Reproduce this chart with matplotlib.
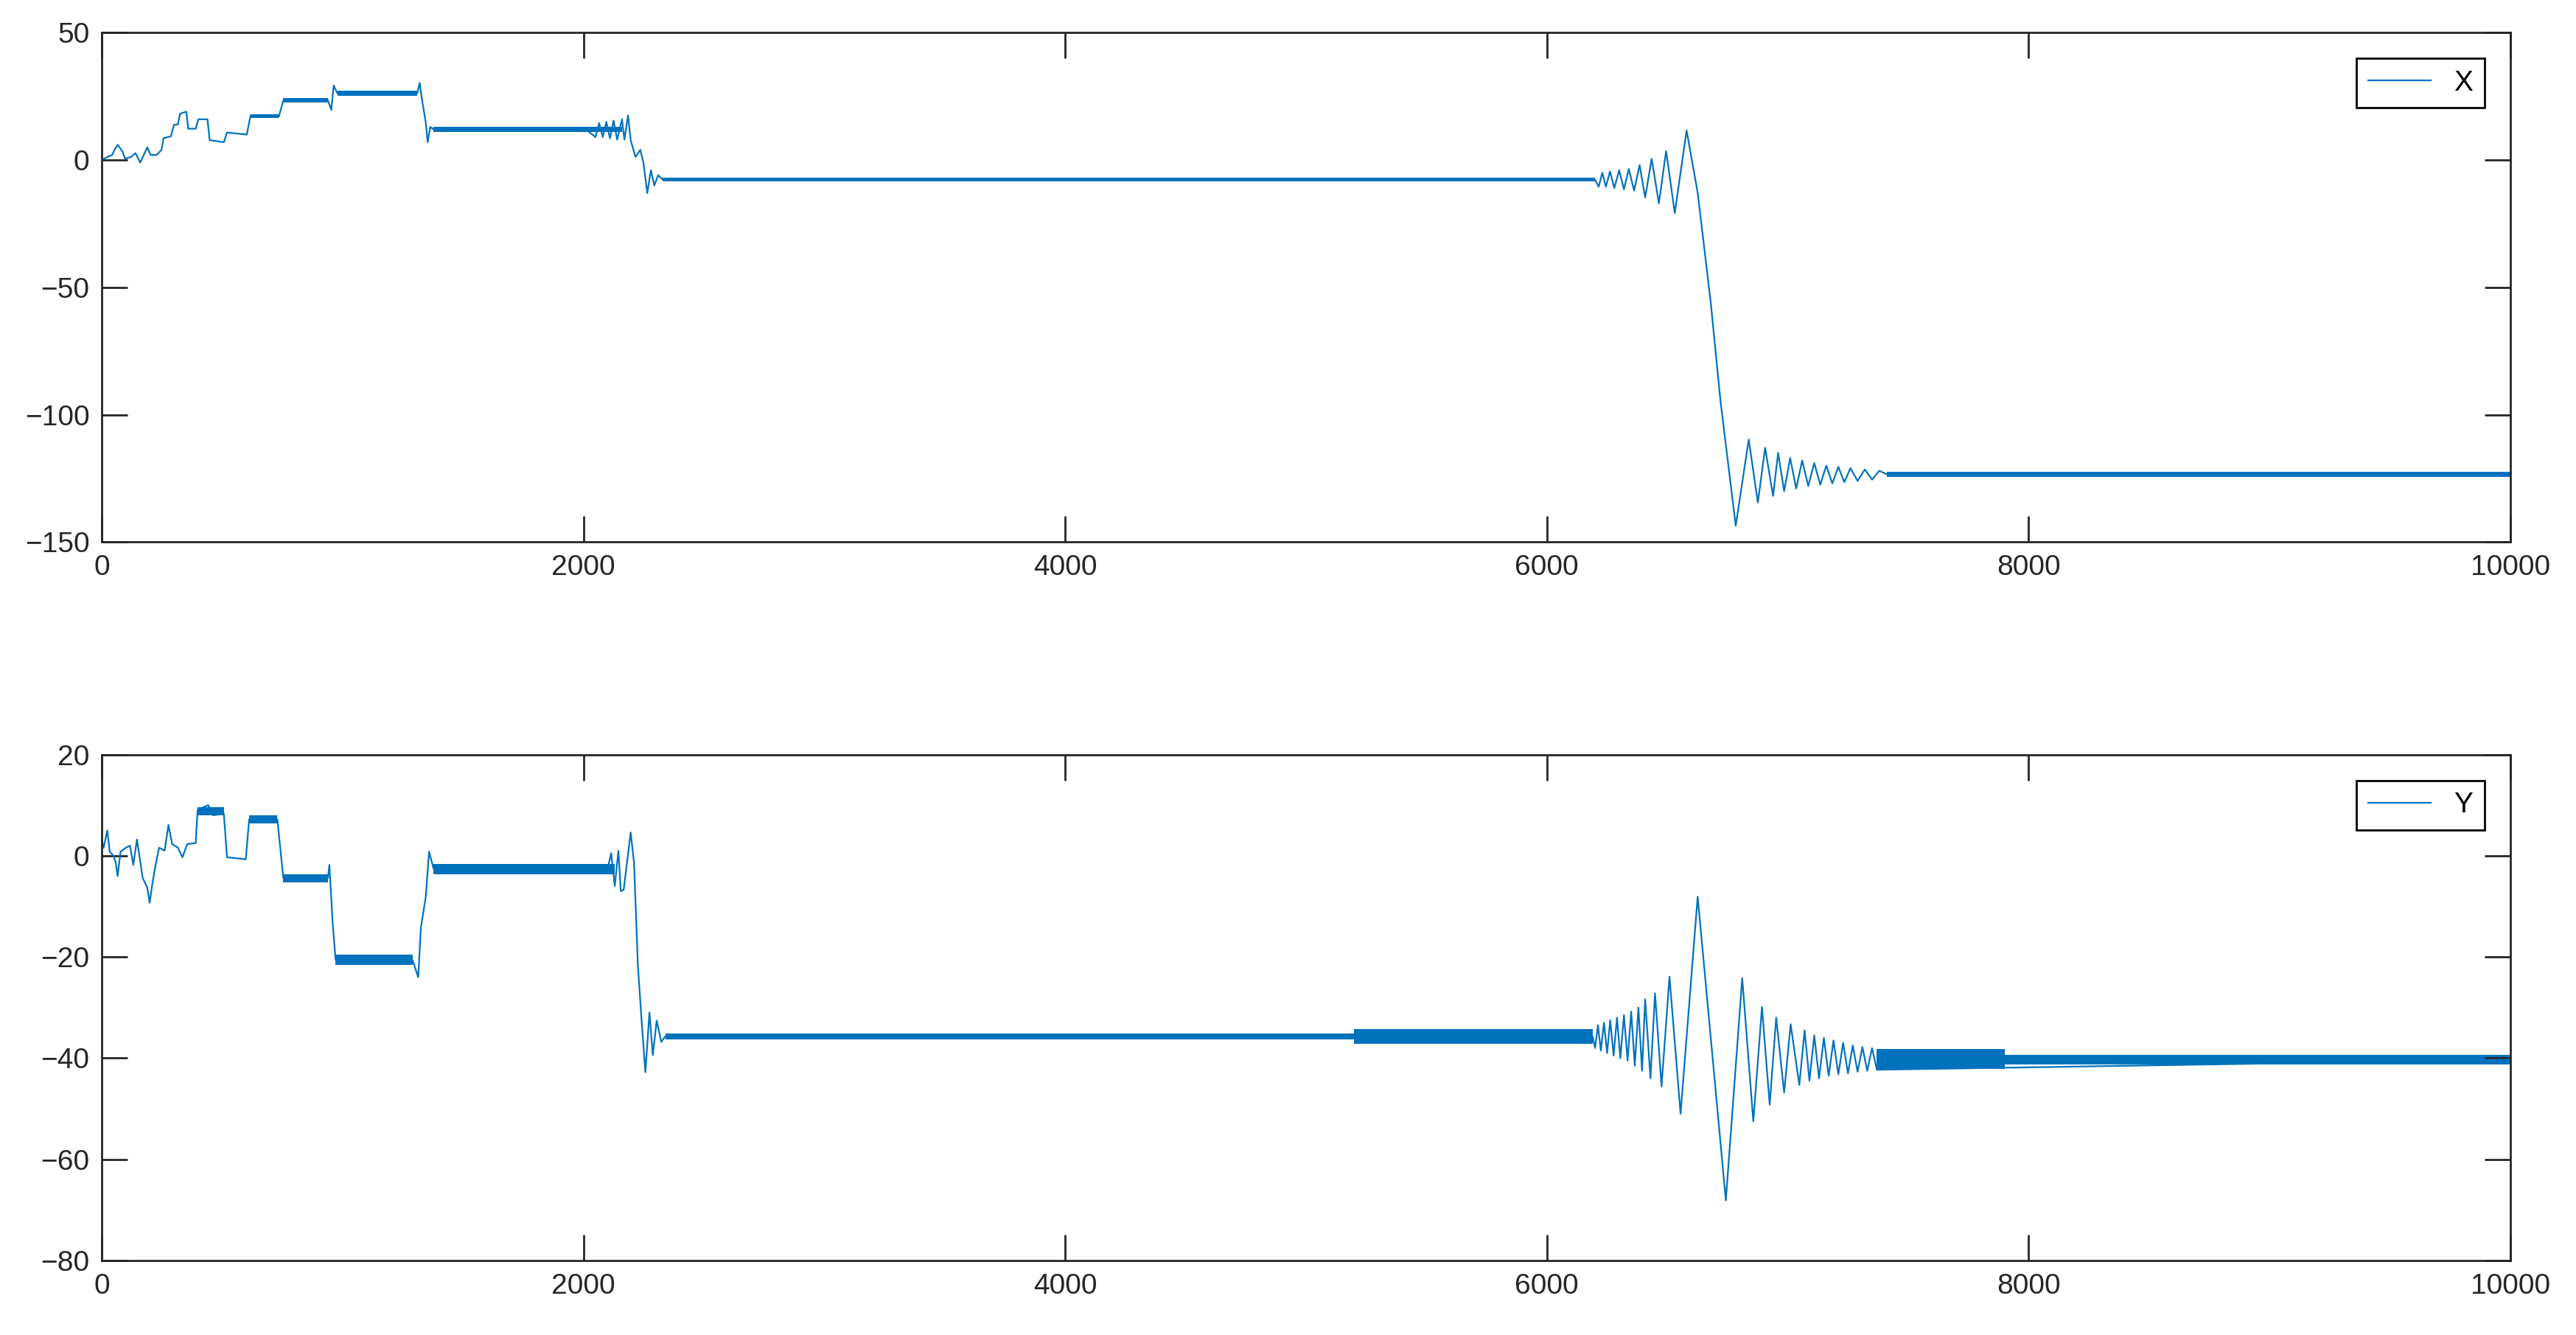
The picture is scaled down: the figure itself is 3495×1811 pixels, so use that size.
import matplotlib
matplotlib.use("Agg")
import matplotlib.pyplot as plt

# ---- data (vertices of the traces) ----
x_t = [0, 23, 43, 53, 66, 86, 97, 121, 140, 160, 189, 203, 228, 248, 257, 287, 300, 316, 325, 351,
       359, 390, 401, 439, 448, 507, 520, 602, 618, 735, 754, 939, 953, 963, 978, 1310, 1320, 1329,
       1345, 1353, 1364, 1378, 2011, 2050, 2065, 2080, 2095, 2110, 2125, 2140, 2160, 2170, 2185,
       2196, 2216, 2236, 2249, 2265, 2280, 2294, 2310, 2330, 6200, 6215, 6230, 6245, 6262, 6280,
       6300, 6320, 6340, 6362, 6385, 6408, 6435, 6465, 6495, 6531, 6580, 6626, 6680, 6721, 6784,
       6838, 6876, 6906, 6939, 6960, 6985, 7010, 7035, 7060, 7085, 7110, 7135, 7160, 7185, 7210,
       7235, 7260, 7290, 7320, 7350, 7380, 7410, 10000]
x_v = [0, 1.2, 2, 4, 6, 3.4, 0.5, 1.2, 2.7, -1, 5, 2, 2, 4, 8.6, 9.3, 13.8, 14, 18.2, 19,
       12.3, 12.3, 16, 16, 7.8, 7, 10.8, 10, 17.5, 17, 23.4, 23.4, 19.7, 29.3, 26.2, 26.2, 30.3, 24,
       15, 7, 13, 12, 12, 9, 14.5, 9, 15, 8.5, 15.5, 8, 16, 8, 17.5,
       7.8, 1.2, 4, -1, -13, -4, -10, -6, -7.7, -7.7, -10.5, -5, -10.5, -4.5, -11,
       -4, -11.5, -3.5, -12, -2, -14.7, 0.5, -17, 3.5, -20.8, 11.6, -12.8, -55.7, -94.8, -143.6,
       -109.8, -134.5, -113, -131.9, -115, -130, -117, -129, -118, -128, -119, -127.5, -120, -127, -120.5,
       -126.5, -121, -126, -121.5, -125.5, -122, -123.4, -123.4]
# dense hatched stretches: start, end, centre, half width
x_band_start = [618, 754, 978, 1378, 2330, 7410]
x_band_end = [735, 939, 1310, 2160, 6200, 10000]
x_band_mid = [17.3, 23.4, 26.2, 12, -7.7, -123.4]
x_band_half = [0.8, 0.8, 1.0, 1.0, 0.8, 1.0]

y_t = [0, 8, 23, 33, 49, 58, 66, 78, 101, 117, 131, 146, 170, 189, 199, 209, 222, 238, 261, 277,
       292, 316, 335, 355, 390, 398, 442, 462, 507, 520, 598, 612, 729, 741, 754, 939, 945, 959, 971,
       1290, 1314, 1325, 1345, 1359, 1378, 2100, 2115, 2130, 2145, 2155, 2167, 2196, 2210, 2226,
       2241, 2257, 2274, 2288, 2304, 2323, 2340, 6190, 6200, 6212, 6224, 6237, 6250, 6263, 6277,
       6291, 6305, 6320, 6335, 6350, 6365, 6380, 6395, 6408, 6430, 6449, 6476, 6509, 6555, 6626,
       6743, 6811, 6857, 6893, 6925, 6952, 6985, 7012, 7048, 7070, 7090, 7110, 7130, 7150, 7170,
       7190, 7210, 7230, 7250, 7270, 7290, 7310, 7330, 7350, 7370, 10000]
y_v = [3, 1.6, 5, 0.8, 0, -1.4, -4, 0.8, 1.6, 2, -1.8, 3.2, -4.4, -6.3, -9.3, -5.9, -2.2, 1.6, 1, 6.1,
       2.3, 1.6, -0.3, 2.3, 2.5, 9.1, 10, 8, 8.3, -0.3, -0.7, 7.2, 7.2, 1.6, -4.4, -4.4, -1.8, -13.5, -20.6,
       -20.6, -24, -14.2, -8.2, 0.8, -2.6, -2.6, 0.5, -6, 1, -7, -6.7, 4.6, -1.4, -21.7,
       -32.3, -42.8, -31, -39.4, -32.6, -36.8, -35.7, -35.7, -38, -33.5, -38.5, -33, -39, -32.5, -39.5,
       -32, -40, -31.5, -40.5, -30.8, -41.5, -30, -42.5, -28.4, -44, -27.2, -45.6, -23.9, -51, -8.1,
       -68.1, -24.2, -52.5, -29.9, -49.2, -32, -46.8, -33.3, -45.3, -34.5, -44.5, -35.5, -44, -36, -43.5,
       -36.5, -43.2, -37, -43, -37.5, -42.7, -37.8, -42.5, -38, -42.3, -40.3]
y_band_start = [398, 612, 754, 971, 1378, 2340, 5200, 7370, 7900]
y_band_end = [507, 729, 939, 1290, 2130, 5200, 6190, 7900, 10000]
y_band_mid = [8.8, 7.2, -4.4, -20.6, -2.6, -35.7, -35.7, -40.2, -40.3]
y_band_half = [0.8, 0.8, 0.8, 1.0, 1.0, 0.6, 1.5, 2.0, 1.0]

x_ticks = [0, 2000, 4000, 6000, 8000, 10000]
top_ticks = [-150, -100, -50, 0, 50]
bot_ticks = [-80, -60, -40, -20, 0, 20]

blue = "#0072BD"
plt.rcParams['font.family'] = ['Liberation Sans', 'DejaVu Sans']

fig = plt.figure(figsize=(34.95, 18.11), dpi=100)
ax1 = fig.add_axes([0.0395, 0.594, 0.935, 0.3815])
ax2 = fig.add_axes([0.0395, 0.0558, 0.935, 0.379])


def draw(ax, t, v, bs, be, bm, bh, label, ticks):
    ax.plot(t, v, color=blue, lw=1.6, label=label)
    for s, e, m, h in zip(bs, be, bm, bh):
        ax.fill_between([s, e], [m - h, m - h], [m + h, m + h], color=blue, lw=0)
    ax.set_xlim(0, 10000)
    ax.set_ylim(ticks[0], ticks[-1])
    ax.set_xticks(x_ticks)
    ax.set_yticks(ticks)
    ax.tick_params(direction='in', length=25, width=2, labelsize=28, colors='#262626',
                   top=True, right=True, pad=12)
    for sp in ax.spines.values():
        sp.set_linewidth(2)
        sp.set_color('#262626')
    leg = ax.legend(loc='upper right', fontsize=28, fancybox=False, framealpha=1,
                    edgecolor='black', borderaxespad=0.9, handlelength=2.2)
    leg.get_frame().set_linewidth(2)


draw(ax1, x_t, x_v, x_band_start, x_band_end, x_band_mid, x_band_half, 'X', top_ticks)
draw(ax2, y_t, y_v, y_band_start, y_band_end, y_band_mid, y_band_half, 'Y', bot_ticks)

fig.savefig("out.png", dpi=100)
